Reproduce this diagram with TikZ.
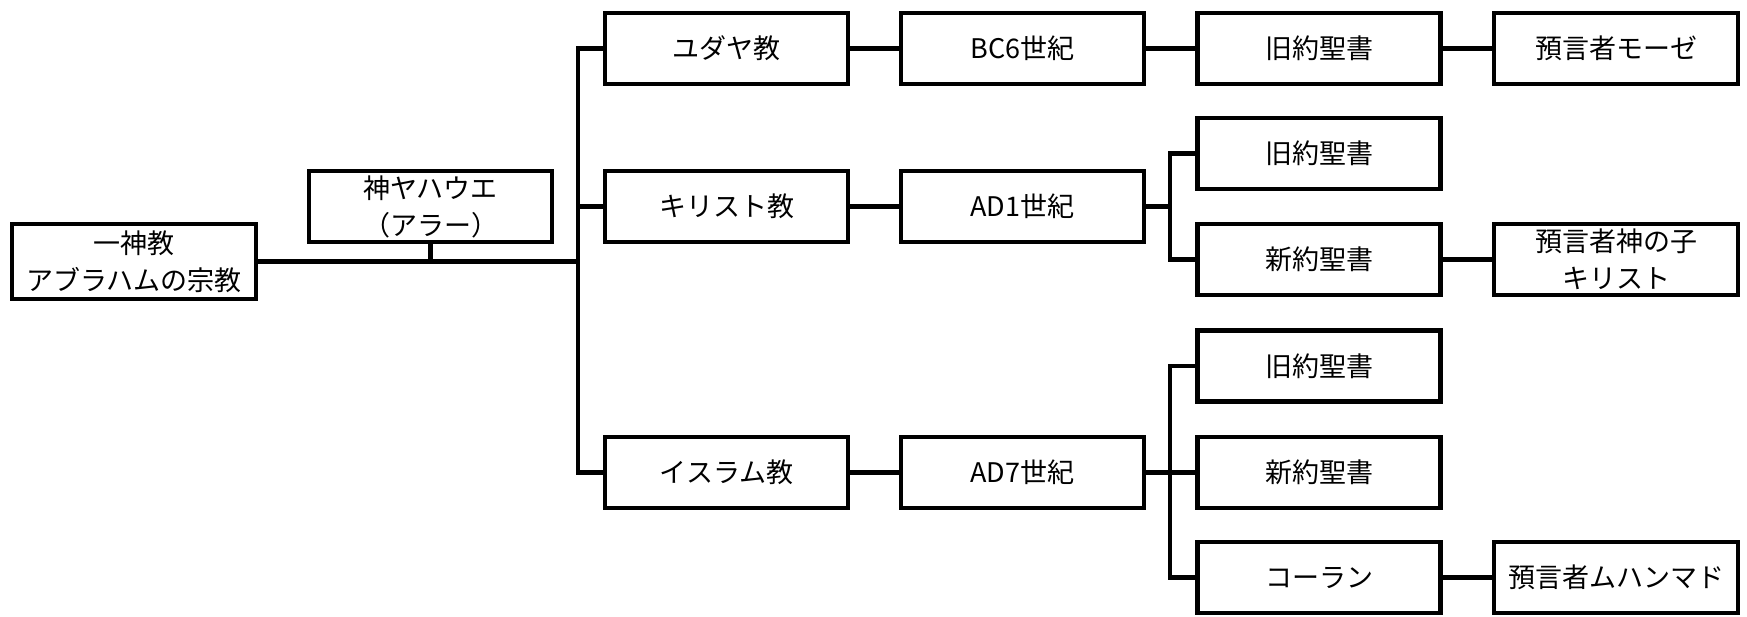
\documentclass[tikz,border=0pt]{standalone}
\usepackage{fontspec}
\setmainfont{Noto Sans CJK JP}
\begin{document}
\begin{tikzpicture}[x=1pt,y=-1pt,
  box/.style={draw=black, line width=4.5pt, rectangle, inner sep=0pt,
    minimum width=243pt, minimum height=71pt, align=center,
    font=\fontsize{27}{37}\selectfont},
  conn/.style={draw=black, line width=4.5pt, line join=miter}]
\useasboundingbox (0,0) rectangle (1747,617);
% column 0
\node[box, minimum width=244pt, minimum height=75pt] (root) at (134,261.5) {一神教\\アブラハムの宗教};
\node[box] (yah) at (430.5,206.5) {神ヤハウエ\\（アラー）};
% column 1
\node[box] (jud) at (726.5,48.5) {ユダヤ教};
\node[box] (chr) at (726.5,206.5) {キリスト教};
\node[box] (isl) at (726.5,472.5) {イスラム教};
% column 2
\node[box] (bc6) at (1022.5,48.5) {BC6世紀};
\node[box] (ad1) at (1022.5,206.5) {AD1世紀};
\node[box] (ad7) at (1022.5,472.5) {AD7世紀};
% column 3
\node[box] (ot1) at (1319,48.5) {旧約聖書};
\node[box] (ot2) at (1319,153.5) {旧約聖書};
\node[box] (nt2) at (1319,259.5) {新約聖書};
\node[box] (ot3) at (1319,366) {旧約聖書};
\node[box] (nt3) at (1319,472.5) {新約聖書};
\node[box] (kor) at (1319,577.5) {コーラン};
% column 4
\node[box, minimum width=244pt] (mos) at (1616,48.5) {預言者モーゼ};
\node[box, minimum width=244pt] (jes) at (1616,259.5) {預言者神の子\\キリスト};
\node[box, minimum width=244pt] (muh) at (1616,577.5) {預言者ムハンマド};
% junctions
\coordinate (t) at (578,261.5);
\coordinate (b2) at (1170,206.5);
\coordinate (b3) at (1170,472.5);
% connectors
\draw[conn] (root.east) -- (t);
\draw[conn] (yah.south) -- (yah.south |- t);
\draw[conn] (jud.west) -| (t);
\draw[conn] (isl.west) -| (t);
\draw[conn] (chr.west) -- (chr.west -| t);
\draw[conn] (jud) -- (bc6);
\draw[conn] (bc6) -- (ot1);
\draw[conn] (ot1) -- (mos);
\draw[conn] (chr) -- (ad1);
\draw[conn] (ad1.east) -- (b2);
\draw[conn] (ot2.west) -| (b2);
\draw[conn] (nt2.west) -| (b2);
\draw[conn] (nt2) -- (jes);
\draw[conn] (isl) -- (ad7);
\draw[conn] (ad7) -- (nt3);
\draw[conn] (ot3.west) -| (b3);
\draw[conn] (kor.west) -| (b3);
\draw[conn] (kor) -- (muh);
\end{tikzpicture}
\end{document}
